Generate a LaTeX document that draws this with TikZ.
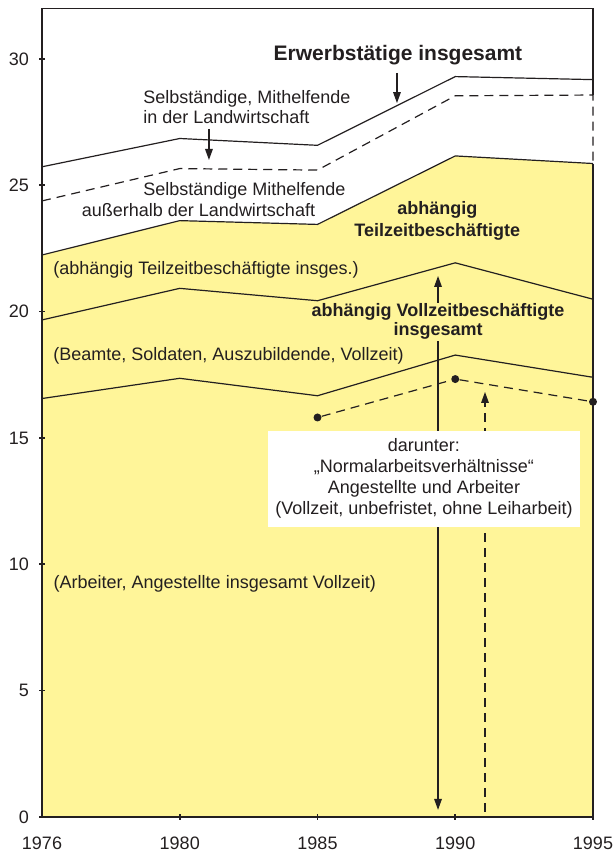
\documentclass[tikz,border=0pt]{standalone}
\usepackage{fontspec}
\setmainfont{Liberation Sans}
\usepackage{tikz}
\usetikzlibrary{arrows.meta}
\definecolor{gelb}{RGB}{255,245,153}
\definecolor{ink}{RGB}{35,31,32}
\tikzset{lbl/.style={inner sep=0pt,text=ink,font=\fontsize{9}{10.2}\selectfont},
  fett/.style={inner sep=0pt,text=ink,align=center,font=\fontsize{9}{9.2}\selectfont\bfseries},
  kurve/.style={draw=ink,line width=0.6pt},
  strich/.style={dash pattern=on 4.5pt off 3pt},
  achse/.style={draw=ink,line width=0.8pt},
  punkt/.style={circle,fill=ink,inner sep=0pt,minimum size=4pt},
  kasten/.style={fill=white,text=ink,align=center,minimum width=156pt,minimum height=48pt,font=\fontsize{9}{10.5}\selectfont}}

\begin{document}
\begin{tikzpicture}[x=68.875pt,y=12.635pt,>={Stealth[inset=0pt,length=5.5pt,width=3.8pt]}]
    \useasboundingbox (-21pt,-18pt) rectangle (286.5pt,408.5pt);

    % Flaeche der abhaengig Beschaeftigten
    \fill[gelb] (0,0) -- (0,22.24) -- (1,23.60) -- (2,23.45) -- (3,26.16) -- (4,25.86) -- (4,0) -- cycle;

    % Rahmen
    \draw[achse] (4,28.57) -- (4,32) -- (0,32) -- (0,0) -- (4,0) -- (4,25.86);

    % Kurven
    \draw[kurve] (0,25.73) -- (1,26.85) -- (2,26.58) -- (3,29.30) -- (4,29.18);
    \draw[kurve,strich] (0,24.38) -- (1,25.66) -- (2,25.60) -- (3,28.54) -- (4,28.57) -- (4,25.86);
    \draw[kurve] (0,22.24) -- (1,23.60) -- (2,23.45) -- (3,26.16) -- (4,25.86);
    \draw[kurve] (0,19.67) -- (1,20.92) -- (2,20.43) -- (3,21.93) -- (4,20.49);
    \draw[kurve] (0,16.56) -- (1,17.36) -- (2,16.67) -- (3,18.28) -- (4,17.40);

    \node[punkt] (na85) at (2,15.81) {};
    \node[punkt] (na90) at (3,17.33) {};
    \node[punkt] (na95) at (4,16.43) {};
    \draw[kurve,strich] (na85) -- (na90) -- (na95);

    % Achsenstriche
    \draw[achse] (0,0) ++(-1.5pt,0) -- ++(3pt,0);
    \draw[achse] (0,5) ++(-1.5pt,0) -- ++(3pt,0);
    \draw[achse] (0,10) ++(-1.5pt,0) -- ++(3pt,0);
    \draw[achse] (0,15) ++(-1.5pt,0) -- ++(3pt,0);
    \draw[achse] (0,20) ++(-1.5pt,0) -- ++(3pt,0);
    \draw[achse] (0,25) ++(-1.5pt,0) -- ++(3pt,0);
    \draw[achse] (0,30) ++(-1.5pt,0) -- ++(3pt,0);
    \draw[achse] (1,0) ++(0,-1.5pt) -- ++(0,3pt);
    \draw[achse] (2,0) ++(0,-1.5pt) -- ++(0,3pt);
    \draw[achse] (3,0) ++(0,-1.5pt) -- ++(0,3pt);
    \draw[achse] (4,0) ++(0,-1.5pt) -- ++(0,1.5pt);

    \node[lbl,anchor=east,xshift=-6.3pt] (y0) at (0,0) {0};
    \node[lbl,anchor=east,xshift=-6.3pt] (y5) at (0,5) {5};
    \node[lbl,anchor=east,xshift=-6.3pt] (y10) at (0,10) {10};
    \node[lbl,anchor=east,xshift=-6.3pt] (y15) at (0,15) {15};
    \node[lbl,anchor=east,xshift=-6.3pt] (y20) at (0,20) {20};
    \node[lbl,anchor=east,xshift=-6.3pt] (y25) at (0,25) {25};
    \node[lbl,anchor=east,xshift=-6.3pt] (y30) at (0,30) {30};
    \node[lbl,yshift=-13pt] (j1976) at (0,0) {1976};
    \node[lbl,yshift=-13pt] (j1980) at (1,0) {1980};
    \node[lbl,yshift=-13pt] (j1985) at (2,0) {1985};
    \node[lbl,yshift=-13pt] (j1990) at (3,0) {1990};
    \node[lbl,yshift=-13pt] (j1995) at (4,0) {1995};

    % Pfeile
    \coordinate (etoben) at (2.577,29.45);
    \coordinate (etspitze) at (2.577,28.25);
    \coordinate (lwoben) at (1.212,27.23);
    \coordinate (lwspitze) at (1.212,26.0);
    \coordinate (vzoben) at (2.875,21.41);
    \coordinate (vzunten) at (2.875,0.28);
    \coordinate (nafuss) at (3.216,0.2);
    \coordinate (naspitze) at (3.216,16.82);

    \draw[kurve,->] (etoben) -- (etspitze);
    \draw[kurve,->] (lwoben) -- (lwspitze);
    \draw[kurve,<->] (vzunten) -- (vzoben);
    \draw[kurve,strich,->] (nafuss) -- (naspitze);

    % Beschriftungen
    \node[fett,font=\fontsize{10.5}{12}\selectfont\bfseries] (titel) at (2.584,30.15) {Erwerbstätige insgesamt};
    \node[lbl,anchor=west,align=left] (landw) at (0.733,28.1) {Selbständige, Mithelfende\\in der Landwirtschaft};
    \node[lbl,anchor=west] (ausser1) at (0.733,24.78) {Selbständige Mithelfende};
    \node[lbl,anchor=west] (ausser2) at (0.287,24.02) {außerhalb der Landwirtschaft};
    \node[fett,font=\fontsize{9}{11}\selectfont\bfseries] (teilzeit) at (2.87,23.57) {abhängig\\Teilzeitbeschäftigte};
    \node[lbl,anchor=west] (tzinsg) at (0.08,21.65) {(abhängig Teilzeitbeschäftigte insges.)};
    \node[fett,fill=gelb,inner sep=0.5pt,font=\fontsize{9}{9.6}\selectfont\bfseries] (vollzeit) at (2.875,19.6) {abhängig Vollzeitbeschäftigte\\insgesamt};
    \node[lbl,anchor=west] (beamte) at (0.08,18.24) {(Beamte, Soldaten, Auszubildende, Vollzeit)};
    \node[kasten] (normal) at (2.773,13.385) {darunter:\\„Normalarbeitsverhältnisse“\\Angestellte und Arbeiter\\(Vollzeit, unbefristet, ohne Leiharbeit)};
    \node[lbl,anchor=west] (arbeiter) at (0.082,9.22) {(Arbeiter, Angestellte insgesamt Vollzeit)};
\end{tikzpicture}
\end{document}
